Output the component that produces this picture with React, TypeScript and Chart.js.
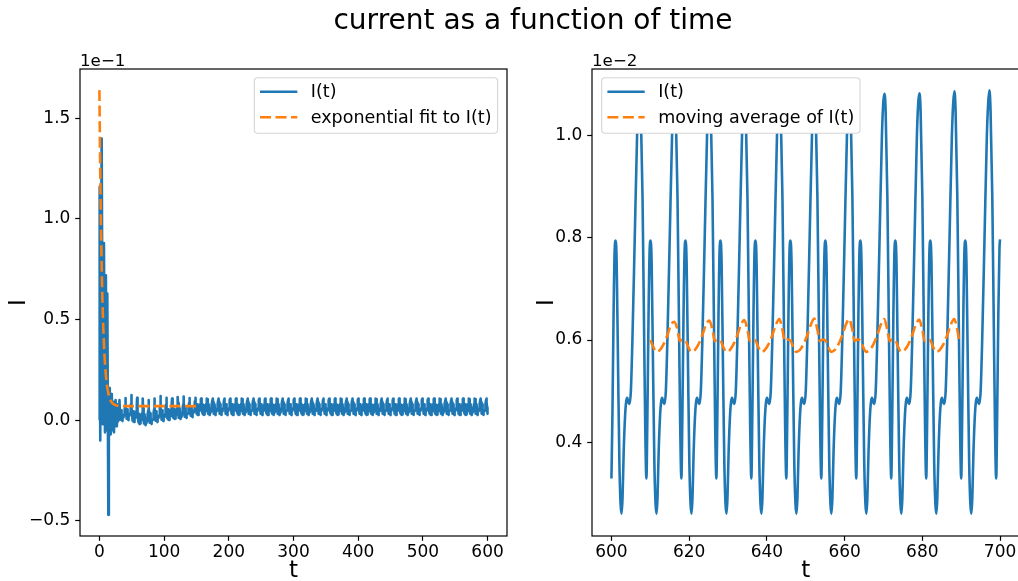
import React, { useEffect, useRef } from "react";
import { Chart, registerables } from "chart.js";

Chart.register(...registerables);

const FONT = "'DejaVu Sans', 'Liberation Sans', sans-serif";
const BLUE = "#1f77b4";
const ORANGE = "#ff7f0e";
const TITLE = "current as a function of time";

// ---------------- left panel: I(t), t in 0..600, shown in units of 1e-1 ----------------
const leftXTicks = [0, 100, 200, 300, 400, 500, 600];
const leftYTicks = [-0.5, 0.0, 0.5, 1.0, 1.5];
const leftYTickLabels = ["−0.5", "0.0", "0.5", "1.0", "1.5"];

// initial transient (t, I x 1e-1)
const transientT = [0, 0.4, 1.3, 3.5, 5.2, 7.0, 8.6, 10.0, 11.2, 12.2, 13.8, 14.6, 15.3, 16.0, 16.8, 17.5, 18.3, 19.2, 20.0, 20.8, 21.6, 22.5, 23.3, 24.2, 25.0, 26.0, 27.0, 28.0, 29.0, 30.0, 31.0, 32.0];
const transientI = [0.0, 1.16, -0.1, 1.4, -0.02, 0.88, -0.06, 0.72, -0.05, 0.63, -0.47, 0.02, 0.16, -0.06, 0.1, -0.07, 0.13, -0.05, 0.06, -0.03, 0.09, -0.06, 0.07, -0.02, 0.1, -0.03, 0.08, -0.01, 0.06, 0.0, 0.1, 0.01];

// settling cycles (start time, baseline shift, spike height), I x 1e-1
const midCycleStarts = [33, 42, 51, 60, 69, 78, 87, 96, 105, 114, 123, 132, 141];
const midCycleShift = [-0.03, -0.025, -0.035, -0.045, -0.05, -0.045, -0.035, -0.03, -0.025, -0.02, -0.02, -0.015, -0.01];
const midCyclePeak = [0.11, 0.125, 0.112, 0.108, 0.1, 0.108, 0.12, 0.112, 0.108, 0.115, 0.118, 0.11, 0.112];

// steady regime: cycles start every 9 time units from t = 150 up to 600
const steadyStart = 150;
const steadyEnd = 600;
const steadyPeak = 0.108;
const steadyEndI = 0.0329;

// exponential fit to I(t) (t, I x 1e-1)
const fitT = [0, 1, 2, 3, 4, 5, 6, 7, 8, 9, 10, 12, 14, 16, 18, 20, 24, 28, 35, 50, 75, 100, 125, 150];
const fitI = [1.64, 1.314, 1.056, 0.852, 0.689, 0.561, 0.459, 0.378, 0.314, 0.264, 0.224, 0.166, 0.131, 0.108, 0.094, 0.085, 0.076, 0.072, 0.0705, 0.07, 0.07, 0.07, 0.07, 0.07];

// ---------------- right panel: I(t), t in 600..700, shown in units of 1e-2 ----------------
const rightXTicks = [600, 620, 640, 660, 680, 700];
const rightYTicks = [0.4, 0.6, 0.8, 1.0];
const rightYTickLabels = ["0.4", "0.6", "0.8", "1.0"];

// one period (9 time units) of the oscillation (I x 1e-2)
const cyclePeriod = 9;
const cycleOffset = [0, 0.25, 0.55, 0.85, 1.1, 1.35, 1.7, 2.05, 2.35, 2.6, 2.85, 3.15, 3.5, 3.8, 4.05, 4.35, 4.65, 5.0, 5.4, 6.0, 6.6, 6.95, 7.25, 7.55, 8.0, 8.4, 8.7];
const cycleValue = [0.329, 0.45, 0.65, 0.78, 0.795, 0.75, 0.55, 0.36, 0.28, 0.26, 0.29, 0.38, 0.45, 0.48, 0.487, 0.478, 0.475, 0.5, 0.6, 0.8, 1.0, 1.065, 1.08, 1.05, 0.88, 0.62, 0.43];
const cyclePeakIndex = 22;

const rightCycleStarts = [600, 609, 618, 627, 636, 645, 654, 663, 672, 681, 690, 699];
const rightPeaks = [1.08, 1.08, 1.08, 1.081, 1.081, 1.081, 1.082, 1.082, 1.083, 1.087, 1.089, 1.089];
const rightEndT = 700;
const rightEndI = 0.797;

// moving average of I(t) (I x 1e-2)
const maCycleStarts = [610, 619, 628, 637, 646, 655, 664, 673, 682];
const maOffset = [0, 0.7, 1.5, 2.5, 3.5, 4.5, 5.3, 6.2, 7.0, 7.6, 8.3];
const maValue = [0.6, 0.588, 0.577, 0.581, 0.593, 0.612, 0.63, 0.637, 0.62, 0.598, 0.601];
const maPeakIndex = 7;
const maPeaks = [0.636, 0.638, 0.639, 0.641, 0.642, 0.641, 0.641, 0.64, 0.641];
const maEndT = 690;
const maEndI = 0.599;

type Pt = { x: number; y: number };

function tile(
  starts: number[],
  offsets: number[],
  values: number[],
  peakIdx: number,
  peakOf: (k: number) => number,
  scale: number,
  shiftOf: (k: number) => number,
  endT: number
): Pt[] {
  const pts: Pt[] = [];
  starts.forEach((c, k) => {
    offsets.forEach((o, j) => {
      const t = c + o;
      if (t >= endT) return;
      const y = j === peakIdx ? peakOf(k) : values[j] * scale + shiftOf(k);
      pts.push({ x: t, y });
    });
  });
  return pts;
}

function buildLeft(): Pt[] {
  const pts: Pt[] = transientT.map((t, i) => ({ x: t, y: transientI[i] }));
  pts.push(
    ...tile(midCycleStarts, cycleOffset, cycleValue, cyclePeakIndex, (k) => midCyclePeak[k], 0.1, (k) => midCycleShift[k], steadyStart)
  );
  const steadyStarts: number[] = [];
  for (let c = steadyStart; c < steadyEnd; c += cyclePeriod) steadyStarts.push(c);
  pts.push(...tile(steadyStarts, cycleOffset, cycleValue, cyclePeakIndex, () => steadyPeak, 0.1, () => 0, steadyEnd));
  pts.push({ x: steadyEnd, y: steadyEndI });
  return pts;
}

function buildRight(): Pt[] {
  const pts = tile(rightCycleStarts, cycleOffset, cycleValue, cyclePeakIndex, (k) => rightPeaks[k], 1, () => 0, rightEndT);
  pts.push({ x: rightEndT, y: rightEndI });
  return pts;
}

function buildMA(): Pt[] {
  const pts = tile(maCycleStarts, maOffset, maValue, maPeakIndex, (k) => maPeaks[k], 1, () => 0, maEndT);
  pts.push({ x: maEndT, y: maEndI });
  return pts;
}

const LINE_W = 2.6;
const DASH = [11, 4.5];

type LegendEntry = { label: string; color: string; dash: number[] };

function makeDecor(o: {
  offsetText: string;
  yLabelX: number;
  legendSide: "left" | "right";
  legendWidth: number;
  entries: LegendEntry[];
}) {
  return {
    id: "decor",
    afterDraw(chart: any) {
      const ctx: CanvasRenderingContext2D = chart.ctx;
      const a = chart.chartArea;
      ctx.save();
      // frame
      ctx.strokeStyle = "#000";
      ctx.lineWidth = 1.2;
      ctx.setLineDash([]);
      ctx.strokeRect(a.left, a.top, a.right - a.left, a.bottom - a.top);
      // offset text
      ctx.fillStyle = "#000";
      ctx.font = `16.7px ${FONT}`;
      ctx.textAlign = "left";
      ctx.textBaseline = "alphabetic";
      ctx.fillText(o.offsetText, a.left, a.top - 3);
      // x label
      ctx.font = `23px ${FONT}`;
      ctx.textAlign = "center";
      ctx.fillText("t", (a.left + a.right) / 2, 577);
      // y label
      ctx.save();
      ctx.translate(o.yLabelX, (a.top + a.bottom) / 2);
      ctx.rotate(-Math.PI / 2);
      ctx.textAlign = "center";
      ctx.textBaseline = "alphabetic";
      ctx.fillText("I", 0, 0);
      ctx.restore();
      // legend
      const w = o.legendWidth;
      const h = 55.6;
      const lx = o.legendSide === "right" ? a.right - 9.4 - w : a.left + 9.7;
      const ly = a.top + 8.7;
      const r = 3.5;
      ctx.beginPath();
      ctx.moveTo(lx + r, ly);
      ctx.lineTo(lx + w - r, ly);
      ctx.arcTo(lx + w, ly, lx + w, ly + r, r);
      ctx.lineTo(lx + w, ly + h - r);
      ctx.arcTo(lx + w, ly + h, lx + w - r, ly + h, r);
      ctx.lineTo(lx + r, ly + h);
      ctx.arcTo(lx, ly + h, lx, ly + h - r, r);
      ctx.lineTo(lx, ly + r);
      ctx.arcTo(lx, ly, lx + r, ly, r);
      ctx.closePath();
      ctx.fillStyle = "#ffffff";
      ctx.fill();
      ctx.strokeStyle = "#d5d5d5";
      ctx.lineWidth = 1.1;
      ctx.stroke();
      const rows = [14, 39.6];
      o.entries.forEach((e, i) => {
        const cy = ly + rows[i];
        ctx.beginPath();
        ctx.setLineDash(e.dash);
        ctx.strokeStyle = e.color;
        ctx.lineWidth = LINE_W;
        ctx.moveTo(lx + 5.7, cy);
        ctx.lineTo(lx + 43, cy);
        ctx.stroke();
        ctx.setLineDash([]);
        ctx.fillStyle = "#000";
        ctx.font = `17.5px ${FONT}`;
        ctx.textAlign = "left";
        ctx.textBaseline = "middle";
        ctx.fillText(e.label, lx + 56.5, cy + 1);
      });
      ctx.restore();
    },
  };
}

function axisOptions(
  xMin: number,
  xMax: number,
  xTicks: number[],
  yMin: number,
  yMax: number,
  yTicks: number[],
  yLabels: string[]
) {
  const grid = {
    display: true,
    drawOnChartArea: false,
    drawTicks: true,
    tickLength: 4.8,
    tickWidth: 1.2,
    tickColor: "#000",
    color: "#000",
  };
  const font = { family: FONT, size: 17 };
  return {
    x: {
      type: "linear",
      min: xMin,
      max: xMax,
      afterBuildTicks: (s: any) => {
        s.ticks = xTicks.map((v) => ({ value: v }));
      },
      afterFit: (s: any) => {
        s.height = 581 - 536;
      },
      ticks: {
        callback: (v: any) => String(v),
        font,
        color: "#000",
        padding: 2,
        maxRotation: 0,
        autoSkip: false,
      },
      grid,
      border: { display: false },
    },
    y: {
      type: "linear",
      min: yMin,
      max: yMax,
      afterBuildTicks: (s: any) => {
        s.ticks = yTicks.map((v) => ({ value: v }));
      },
      afterFit: (s: any) => {
        s.width = 80;
      },
      ticks: {
        callback: (_v: any, i: number) => yLabels[i],
        font,
        color: "#000",
        padding: 4.8,
        autoSkip: false,
      },
      grid,
      border: { display: false },
    },
  };
}

function LeftChart() {
  const ref = useRef<HTMLCanvasElement | null>(null);
  useEffect(() => {
    if (!ref.current) return;
    const chart = new Chart(ref.current, {
      type: "line",
      data: {
        datasets: [
          {
            label: "I(t)",
            data: buildLeft(),
            borderColor: BLUE,
            borderWidth: LINE_W,
            pointRadius: 0,
            tension: 0,
            borderJoinStyle: "round",
            order: 2,
          },
          {
            label: "exponential fit to I(t)",
            data: fitT.map((t, i) => ({ x: t, y: fitI[i] })),
            borderColor: ORANGE,
            borderWidth: LINE_W,
            borderDash: DASH,
            pointRadius: 0,
            cubicInterpolationMode: "monotone",
            order: 1,
          },
        ],
      },
      options: {
        animation: false,
        responsive: false,
        devicePixelRatio: 1,
        parsing: false,
        layout: { padding: { left: 0, top: 69, right: 13, bottom: 0 } },
        plugins: { legend: { display: false }, tooltip: { enabled: false } },
        scales: axisOptions(-30, 630, leftXTicks, -0.575, 1.745, leftYTicks, leftYTickLabels) as any,
      } as any,
      plugins: [
        makeDecor({
          offsetText: "1e−1",
          yLabelX: 25,
          legendSide: "right",
          legendWidth: 243.3,
          entries: [
            { label: "I(t)", color: BLUE, dash: [] },
            { label: "exponential fit to I(t)", color: ORANGE, dash: DASH },
          ],
        }),
      ],
    } as any);
    return () => chart.destroy();
  }, []);
  return (
    <canvas
      ref={ref}
      width={520}
      height={581}
      style={{ position: "absolute", left: 0, top: 0, width: 520, height: 581, display: "block" }}
    />
  );
}

function RightChart() {
  const ref = useRef<HTMLCanvasElement | null>(null);
  useEffect(() => {
    if (!ref.current) return;
    const chart = new Chart(ref.current, {
      type: "line",
      data: {
        datasets: [
          {
            label: "I(t)",
            data: buildRight(),
            borderColor: BLUE,
            borderWidth: LINE_W,
            pointRadius: 0,
            cubicInterpolationMode: "monotone",
            borderJoinStyle: "round",
            order: 2,
          },
          {
            label: "moving average of I(t)",
            data: buildMA(),
            borderColor: ORANGE,
            borderWidth: LINE_W,
            borderDash: DASH,
            pointRadius: 0,
            cubicInterpolationMode: "monotone",
            order: 1,
          },
        ],
      },
      options: {
        animation: false,
        responsive: false,
        devicePixelRatio: 1,
        parsing: false,
        layout: { padding: { left: 0, top: 69, right: 12.5, bottom: 0 } },
        plugins: { legend: { display: false }, tooltip: { enabled: false } },
        scales: axisOptions(595, 705, rightXTicks, 0.2165, 1.1306, rightYTicks, rightYTickLabels) as any,
      } as any,
      plugins: [
        makeDecor({
          offsetText: "1e−2",
          yLabelX: 553 - 512,
          legendSide: "left",
          legendWidth: 258.3,
          entries: [
            { label: "I(t)", color: BLUE, dash: [] },
            { label: "moving average of I(t)", color: ORANGE, dash: DASH },
          ],
        }),
      ],
    } as any);
    return () => chart.destroy();
  }, []);
  return (
    <canvas
      ref={ref}
      width={520}
      height={581}
      style={{ position: "absolute", left: 512, top: 0, width: 520, height: 581, display: "block" }}
    />
  );
}

export default function App() {
  return (
    <div
      style={{
        position: "fixed",
        left: 0,
        top: 0,
        width: 1018,
        height: 581,
        overflow: "hidden",
        background: "#fff",
      }}
    >
      <LeftChart />
      <RightChart />
      <div
        style={{
          position: "absolute",
          left: 533,
          top: 4,
          transform: "translateX(-50%)",
          whiteSpace: "nowrap",
          fontFamily: FONT,
          fontSize: 28,
          lineHeight: "32px",
          color: "#000",
        }}
      >
        {TITLE}
      </div>
    </div>
  );
}
